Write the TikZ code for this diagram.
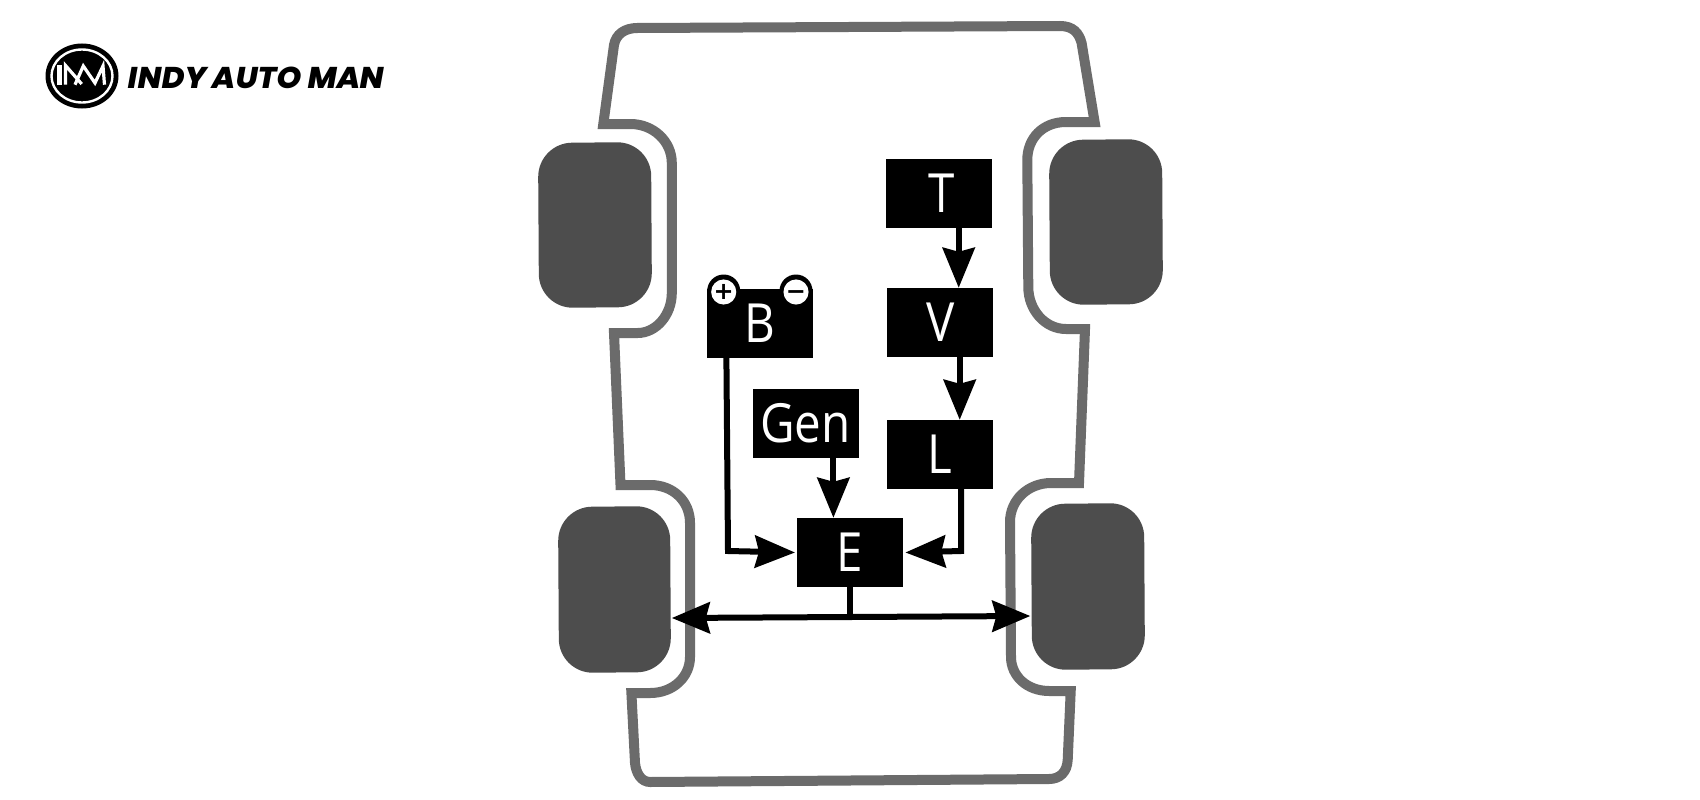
\documentclass[tikz,border=0pt]{standalone}
\usepackage{fontspec}
\setmainfont[FakeStretch=0.88]{Open Sans}
\newfontfamily\logofont[FakeSlant=0.18,FakeStretch=1.04]{Poppins ExtraBold}
\newfontfamily\termfont{DejaVu Sans}
\usetikzlibrary{arrows.meta,shapes.geometric}
\definecolor{tyre}{HTML}{4D4D4D}
\definecolor{hull}{HTML}{6B6B6B}
\tikzset{
  boxnode/.style={fill=black,text=white,inner sep=0pt,minimum width=106pt,minimum height=69pt,font=\fontsize{54}{54}\selectfont},
  lnk/.style={line width=6pt,draw=black},
  arr/.style={lnk,-{Stealth[length=40pt,width=32pt,inset=4pt]}},
  bus/.style={lnk,{Stealth[length=38pt,width=31pt,inset=4pt]}-{Stealth[length=38pt,width=31pt,inset=4pt]}},
  tyreshape/.style={fill=tyre,rounded corners=34pt},
  termout/.style={circle,fill=black,minimum size=33pt,inner sep=0pt},
  termin/.style={circle,fill=white,minimum size=25pt,inner sep=0pt,text=black,text height=15pt,text depth=0pt,font=\termfont\bfseries\fontsize{24}{24}\selectfont},
}
\begin{document}
\begin{tikzpicture}[x=1pt,y=-1pt]
\useasboundingbox (0,0) rectangle (1700,800);
\fill[white] (0,0) rectangle (1700,800);
% hull
\draw[hull,line width=10pt,miter limit=10] (637.4,28) -- (1060,26) .. controls (1073,26) and (1079,33) .. (1081.6,43) -- (1094.6,122) -- (1066,122) .. controls (1043,122) and (1027.3,138) .. (1027.3,160) -- (1028.3,287) .. controls (1028.3,310) and (1045,329) .. (1066,329) -- (1085,329) -- (1079,483) -- (1051.2,483) .. controls (1028,483) and (1010,500) .. (1010,522) -- (1011,657) .. controls (1011,676) and (1027,691) .. (1049.2,691) -- (1070.7,691) -- (1067.7,760) .. controls (1067,772) and (1060,779) .. (1049,779) -- (650.3,782) .. controls (641,782) and (636,773) .. (635,763) -- (631.4,693) -- (650.3,693) .. controls (673,693) and (690,677) .. (690,657) -- (690,523) .. controls (690,501) and (673,485) .. (650.3,485) -- (620.5,485) -- (614,333) -- (637.7,333) .. controls (656,333) and (671.8,315) .. (671.8,293) -- (671.8,163) .. controls (671.8,141) and (653,124) .. (630.4,124) -- (603.3,124) -- (614,45) .. controls (616,34) and (625,28) .. (637.4,28) -- cycle;
% tyres
\fill[tyreshape] (538,143) -- (651,142) -- (652,307) -- (539,308) -- cycle;
\fill[tyreshape] (1049,140) -- (1162,139) -- (1163,304) -- (1050,305) -- cycle;
\fill[tyreshape] (558,507) -- (670,506) -- (671,672) -- (559,673) -- cycle;
\fill[tyreshape] (1031,504) -- (1144,503) -- (1145,669) -- (1032,670) -- cycle;
% boxes
\node[boxnode] (T) at (938.5,193.5) {\hspace*{7pt}T};
\node[boxnode] (V) at (940.2,322.5) {V};
\node[boxnode] (L) at (940.2,454.5) {L};
\node[boxnode] (B) at (760,323.5) {B};
\node[boxnode] (Gen) at (805.5,423.5) {Gen};
\node[boxnode] (E) at (850.2,552.5) {E};
% battery terminals
\node[termout] (pout) at (723.7,291) {};
\node[termout] (mout) at (796,291) {};
\node[termin] (plus) at (723.7,292) {+};
\node[termin] (minus) at (796,292) {−};
% connectors
\coordinate (bcorner) at (728,551);
\coordinate (lcorner) at (961,551);
\coordinate (busL) at (671.8,618);
\coordinate (busM) at (850.2,617);
\coordinate (busR) at (1030.3,616);
\draw[arr] ([xshift=20.2pt]T.south) -- ([xshift=18.5pt]V.north);
\draw[arr] ([xshift=19.5pt]V.south) -- ([xshift=19.5pt]L.north);
\draw[arr] ([xshift=27.9pt]Gen.south) -- ([xshift=-16.8pt]E.north);
\draw[arr] ([xshift=-33.6pt]B.south) -- (bcorner) -- ([xshift=-2pt]E.west);
\draw[arr] ([xshift=20.8pt]L.south) -- (lcorner) -- ([xshift=2pt]E.east);
\draw[lnk] (E.south) -- (busM);
\draw[bus] (busL) -- (busR);
% logo
\node[ellipse,fill=black,minimum width=73pt,minimum height=65pt,inner sep=0pt] (logo) at (82,76) {};
\draw[white,line width=2.4pt] (logo.center) ellipse [x radius=30.5pt,y radius=26.5pt];
\fill[white] (57,64.7) rectangle (62,84.7);
\draw[white,line width=3.2pt,line join=miter] (65.5,84.7) -- (65.5,65.5) -- (81.7,84);
\draw[white,line width=3.2pt,line join=miter] (75,84.7) -- (83.3,66) -- (95,83) -- (103,66) -- (104.5,84.7);
\node[anchor=west,inner sep=0pt,font=\logofont\fontsize{30}{30}\selectfont] (brand) at (126.5,77.5) {INDY AUTO MAN};
\end{tikzpicture}
\end{document}
